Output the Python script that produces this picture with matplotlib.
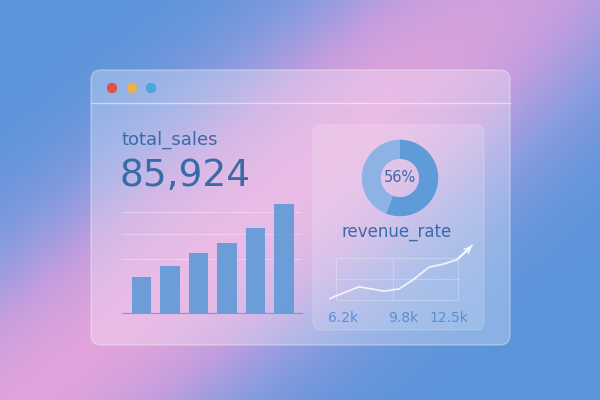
import matplotlib
matplotlib.use("Agg")
import matplotlib.pyplot as plt
import numpy as np
from matplotlib.patches import FancyBboxPatch, Circle
from matplotlib.colors import LinearSegmentedColormap

# --- data ---------------------------------------------------------------
metric_name = "total_sales"
metric_value = "85,924"
bar_values = [36, 47, 60, 70, 85, 109]
rate_name = "revenue_rate"
rate_pct = 56
trend_x = [0, 30, 55, 70, 85, 100, 115, 128, 143]
trend_y = [3, 14, 10, 12, 21, 32, 35, 39, 52]
trend_labels = ["6.2k", "9.8k", "12.5k"]

W, H = 600, 400
TXT = "#3a6aa8"
BAR = "#5f9ad8"

fig = plt.figure(figsize=(6, 4), dpi=100)
bg = fig.add_axes([0, 0, 1, 1])
bg.set_xlim(0, W)
bg.set_ylim(H, 0)
bg.axis("off")

# background: blue with a pink diagonal glow through the middle
yy, xx = np.mgrid[0:H:2, 0:W:2]
d = (xx * 0.8 + yy - 420) / 160.0
t = np.exp(-d ** 2)
t = t * (1 - 0.35 * np.clip((xx - 380) / 220, 0, 1))
cmap = LinearSegmentedColormap.from_list("bg", ["#5b94da", "#8e9ce0", "#c39ede", "#e0a3dc"])
bg.imshow(t, extent=[0, W, H, 0], cmap=cmap, aspect="auto", zorder=0, vmin=0, vmax=1)

# window
bg.add_patch(FancyBboxPatch((91, 70), 419, 275, boxstyle="round,pad=0,rounding_size=10",
                            fc="white", alpha=0.28, ec="white", lw=1.2, zorder=1))
bg.plot([91, 510], [103, 103], color="white", alpha=0.5, lw=1, zorder=2)
for x, c in zip([112, 132, 151], ["#e0504a", "#e6b24c", "#4fa3e0"]):
    bg.add_patch(Circle((x, 88), 4.5, color=c, zorder=3))

bg.text(121, 140, metric_name, fontsize=13, color=TXT, va="center", zorder=3)
bg.text(119, 176, metric_value, fontsize=27, color=TXT, va="center", zorder=3)

# right card
bg.add_patch(FancyBboxPatch((313, 125), 171, 205, boxstyle="round,pad=0,rounding_size=8",
                            fc="white", alpha=0.15, ec="white", lw=1, zorder=1))


def ax_at(x0, y0, x1, y1):
    a = fig.add_axes([x0 / W, 1 - y1 / H, (x1 - x0) / W, (y1 - y0) / H])
    a.patch.set_alpha(0)
    return a


# bar chart
bax = ax_at(122, 195, 302, 313)
pos = np.arange(len(bar_values))
bax.bar(pos, bar_values, width=0.67, color=BAR, alpha=0.9, zorder=2)
bax.set_xlim(-0.684, 5.63)
bax.set_ylim(0, 118)
for g in [54, 79, 101]:
    bax.axhline(g, color="white", alpha=0.3, lw=0.8, zorder=1)
for s in bax.spines.values():
    s.set_visible(False)
bax.spines["bottom"].set_visible(True)
bax.spines["bottom"].set_color("#6d9fd8")
bax.set_xticks([])
bax.set_yticks([])

# donut
dax = ax_at(361, 139, 439, 217)
dax.pie([rate_pct, 100 - rate_pct], colors=["#5e9bd8", "#8db3e4"], startangle=90,
        counterclock=False, wedgeprops=dict(width=0.5))
dax.set_xlim(-1.02, 1.02)
dax.set_ylim(-1.02, 1.02)
dax.set_aspect("equal")
dax.text(0, 0, f"{rate_pct}%", ha="center", va="center", fontsize=10.5, color=TXT)
bg.text(397, 232, rate_name, fontsize=12, color=TXT, ha="center", va="center", zorder=3)

# trend line
lax = ax_at(329, 240, 476, 302)
lax.set_xlim(0, 147)
lax.set_ylim(0, 57)
lax.plot(trend_x, trend_y, color="white", alpha=0.8, lw=1.3)
lax.annotate("", xy=(trend_x[-1] + 2, trend_y[-1] + 1), xytext=(trend_x[-2], trend_y[-2]),
             arrowprops=dict(arrowstyle="->", color="white", alpha=0.8, lw=1.3))
for s in lax.spines.values():
    s.set_visible(False)
lax.set_xticks([])
lax.set_yticks([])
bg.add_patch(plt.Rectangle((336, 258), 122, 42, fill=False, ec="white", alpha=0.25, lw=0.8, zorder=2))
bg.plot([393, 393], [258, 300], color="white", alpha=0.25, lw=0.8, zorder=2)
bg.plot([336, 458], [279, 279], color="white", alpha=0.25, lw=0.8, zorder=2)
for x, lab in zip([343, 403, 449], trend_labels):
    bg.text(x, 318, lab, fontsize=10, color="#5a8fd0", ha="center", va="center", zorder=3)

fig.savefig("out.png", dpi=100)
